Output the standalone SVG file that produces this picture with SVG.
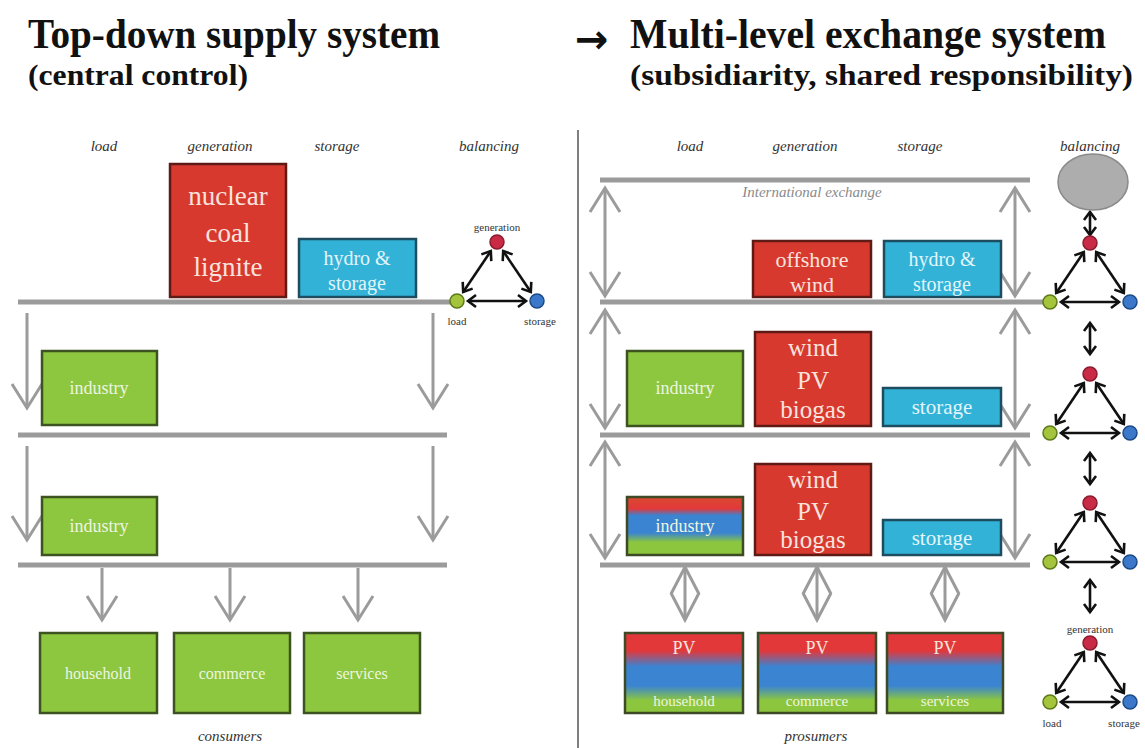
<svg xmlns="http://www.w3.org/2000/svg" xmlns:xlink="http://www.w3.org/1999/xlink" width="1145" height="748" viewBox="0 0 1145 748">
  <style>
    .title { font-weight: bold; fill: #111; }
    .head { font-style: italic; font-size: 15px; fill: #333; text-anchor: middle; }
    .small { font-size: 11px; fill: #333; text-anchor: middle; }
    .bus { stroke: #9b9b9b; stroke-width: 5; fill: none; }
    .flow { stroke: #9b9b9b; stroke-width: 3; fill: none; }
    .bal { stroke: #111; stroke-width: 2.6; fill: none; }
    .red { fill: #d8392f; stroke: #5e1a15; stroke-width: 2.5; }
    .blue { fill: #31b2d6; stroke: #1f4d60; stroke-width: 2.5; }
    .green { fill: #8dc63f; stroke: #3d5420; stroke-width: 2.5; }
    .mix { stroke: #3d4a25; stroke-width: 2.5; }
    .lbl { text-anchor: middle; }
    .lred { fill: #f7e3de; }
    .lblue { fill: #e3f5fa; }
    .lgreen { fill: #eef5e0; }
  </style>
  <defs>
    <marker id="gh" markerUnits="userSpaceOnUse" markerWidth="60" markerHeight="60" viewBox="-30 -30 60 60" refX="0" refY="0" orient="auto-start-reverse" overflow="visible">
      <path d="M-24,-15 L0,0 L-24,15" fill="none" stroke="#9b9b9b" stroke-width="3"/>
    </marker>
    <marker id="dh" markerUnits="userSpaceOnUse" markerWidth="60" markerHeight="60" viewBox="-30 -30 60 60" refX="0" refY="0" orient="auto-start-reverse" overflow="visible">
      <path d="M-27,-14 L0,0 L-27,14" fill="none" stroke="#9b9b9b" stroke-width="3"/>
    </marker>
    <marker id="kh" markerUnits="userSpaceOnUse" markerWidth="20" markerHeight="20" viewBox="-10 -10 20 20" refX="0" refY="0" orient="auto-start-reverse" overflow="visible">
      <path d="M-8,-6 L0,0 L-8,6" fill="none" stroke="#111" stroke-width="2.6"/>
    </marker>
    <linearGradient id="pv" x1="0" y1="0" x2="0" y2="1">
      <stop offset="0" stop-color="#e2383a"/>
      <stop offset="0.22" stop-color="#e2383a"/>
      <stop offset="0.42" stop-color="#3a84d2"/>
      <stop offset="0.66" stop-color="#3a84d2"/>
      <stop offset="0.84" stop-color="#8cc63f"/>
      <stop offset="1" stop-color="#8cc63f"/>
    </linearGradient>
    <linearGradient id="ind" x1="0" y1="0" x2="0" y2="1">
      <stop offset="0" stop-color="#d84a2e"/>
      <stop offset="0.2" stop-color="#e2383a"/>
      <stop offset="0.32" stop-color="#3a84d2"/>
      <stop offset="0.62" stop-color="#3a84d2"/>
      <stop offset="0.78" stop-color="#8cc63f"/>
      <stop offset="1" stop-color="#8cc63f"/>
    </linearGradient>
    <!-- balancing triangle: generation (top), load (left), storage (right) -->
    <g id="tri">
      <path class="bal" d="M-6.2,9.1 L-33.8,49.9" marker-start="url(#kh)" marker-end="url(#kh)"/>
      <path class="bal" d="M6.2,9.1 L33.8,49.9" marker-start="url(#kh)" marker-end="url(#kh)"/>
      <path class="bal" d="M-29,59 L29,59" marker-start="url(#kh)" marker-end="url(#kh)"/>
      <circle cx="0" cy="0" r="7" fill="#c92a45" stroke="#8a1a2c" stroke-width="1.5"/>
      <circle cx="-40" cy="59" r="7" fill="#a3c43c" stroke="#5c7a1a" stroke-width="1.5"/>
      <circle cx="40" cy="59" r="7" fill="#3b78c9" stroke="#1d4a87" stroke-width="1.5"/>
    </g>
  </defs>

  <rect width="1145" height="748" fill="#ffffff"/>

  <!-- titles -->
  <g id="titles" font-family="Liberation Serif">
    <text class="title" x="28" y="48" font-size="42" textLength="412" lengthAdjust="spacingAndGlyphs">Top-down supply system</text>
    <text class="title" x="28" y="85" font-size="29" textLength="220" lengthAdjust="spacingAndGlyphs">(central control)</text>
    <text x="575" y="53" font-family="DejaVu Sans" font-weight="bold" font-size="40" fill="#111">→</text>
    <text class="title" x="630" y="48" font-size="42" textLength="476" lengthAdjust="spacingAndGlyphs">Multi-level exchange system</text>
    <text class="title" x="630" y="85" font-size="29" textLength="503" lengthAdjust="spacingAndGlyphs">(subsidiarity, shared responsibility)</text>
  </g>

  <!-- divider -->
  <line x1="578" y1="130" x2="578" y2="748" stroke="#555" stroke-width="1.5"/>

  <!-- column headers -->
  <g id="headers" font-family="Liberation Serif">
    <text class="head" x="104" y="151">load</text>
    <text class="head" x="220" y="151">generation</text>
    <text class="head" x="337" y="151">storage</text>
    <text class="head" x="489" y="151">balancing</text>
    <text class="head" x="690" y="151">load</text>
    <text class="head" x="805" y="151">generation</text>
    <text class="head" x="920" y="151">storage</text>
    <text class="head" x="1090" y="151">balancing</text>
  </g>

  <!-- grid levels -->
  <g id="buses">
    <line class="bus" x1="18" y1="302" x2="452" y2="302"/>
    <line class="bus" x1="18" y1="435" x2="447" y2="435"/>
    <line class="bus" x1="18" y1="565" x2="447" y2="565"/>
    <line class="bus" x1="600" y1="180" x2="1030" y2="180"/>
    <line class="bus" x1="600" y1="302" x2="1044" y2="302"/>
    <line class="bus" x1="600" y1="435" x2="1030" y2="435"/>
    <line class="bus" x1="600" y1="565" x2="1030" y2="565"/>
    <text class="head" x="812" y="197" font-size="14" font-family="Liberation Serif" style="fill:#8a8a8a">International exchange</text>
  </g>

  <!-- connectors -->
  <g id="connectors">
    <!-- top-down flows -->
    <line class="flow" x1="27" y1="313" x2="27" y2="408" marker-end="url(#gh)"/>
    <line class="flow" x1="433" y1="313" x2="433" y2="408" marker-end="url(#gh)"/>
    <line class="flow" x1="27" y1="446" x2="27" y2="540" marker-end="url(#gh)"/>
    <line class="flow" x1="433" y1="446" x2="433" y2="540" marker-end="url(#gh)"/>
    <line class="flow" x1="102" y1="568" x2="102" y2="620" marker-end="url(#gh)"/>
    <line class="flow" x1="230" y1="568" x2="230" y2="620" marker-end="url(#gh)"/>
    <line class="flow" x1="358" y1="568" x2="358" y2="620" marker-end="url(#gh)"/>
    <!-- multi-level exchanges -->
    <line class="flow" x1="605" y1="188" x2="605" y2="296" marker-start="url(#gh)" marker-end="url(#gh)"/>
    <line class="flow" x1="1015" y1="188" x2="1015" y2="296" marker-start="url(#gh)" marker-end="url(#gh)"/>
    <line class="flow" x1="605" y1="310" x2="605" y2="428" marker-start="url(#gh)" marker-end="url(#gh)"/>
    <line class="flow" x1="1015" y1="310" x2="1015" y2="428" marker-start="url(#gh)" marker-end="url(#gh)"/>
    <line class="flow" x1="605" y1="442" x2="605" y2="558" marker-start="url(#gh)" marker-end="url(#gh)"/>
    <line class="flow" x1="1015" y1="442" x2="1015" y2="558" marker-start="url(#gh)" marker-end="url(#gh)"/>
    <line class="flow" x1="685" y1="567" x2="685" y2="620" marker-start="url(#dh)" marker-end="url(#dh)"/>
    <line class="flow" x1="817" y1="567" x2="817" y2="620" marker-start="url(#dh)" marker-end="url(#dh)"/>
    <line class="flow" x1="945" y1="567" x2="945" y2="620" marker-start="url(#dh)" marker-end="url(#dh)"/>
    <!-- balancing links between levels -->
    <line class="bal" x1="1090" y1="212" x2="1090" y2="235" marker-start="url(#kh)" marker-end="url(#kh)"/>
    <line class="bal" x1="1090" y1="323" x2="1090" y2="354" marker-start="url(#kh)" marker-end="url(#kh)"/>
    <line class="bal" x1="1090" y1="453" x2="1090" y2="484" marker-start="url(#kh)" marker-end="url(#kh)"/>
    <line class="bal" x1="1090" y1="580" x2="1090" y2="612" marker-start="url(#kh)" marker-end="url(#kh)"/>
  </g>

  <!-- left: central supply -->
  <g id="nuclear-coal-lignite" font-family="Liberation Serif">
    <rect class="red" x="170" y="164" width="116" height="133"/>
    <text class="lbl lred" x="228" y="205" font-size="27">nuclear</text>
    <text class="lbl lred" x="228" y="242" font-size="27">coal</text>
    <text class="lbl lred" x="228" y="276" font-size="27">lignite</text>
  </g>
  <g id="hydro-storage-left" font-family="Liberation Serif">
    <rect class="blue" x="299" y="239" width="117" height="58"/>
    <text class="lbl lblue" x="357" y="265" font-size="20">hydro &amp;</text>
    <text class="lbl lblue" x="357" y="290" font-size="20">storage</text>
  </g>
  <g id="industry-left-1" font-family="Liberation Serif">
    <rect class="green" x="42" y="351" width="115" height="74"/>
    <text class="lbl lgreen" x="99" y="394" font-size="18">industry</text>
  </g>
  <g id="industry-left-2" font-family="Liberation Serif">
    <rect class="green" x="42" y="497" width="115" height="58"/>
    <text class="lbl lgreen" x="99" y="532" font-size="18">industry</text>
  </g>
  <g id="household-left" font-family="Liberation Serif">
    <rect class="green" x="40" y="633" width="117" height="80"/>
    <text class="lbl lgreen" x="98" y="679" font-size="16">household</text>
  </g>
  <g id="commerce-left" font-family="Liberation Serif">
    <rect class="green" x="174" y="633" width="116" height="80"/>
    <text class="lbl lgreen" x="232" y="679" font-size="16">commerce</text>
  </g>
  <g id="services-left" font-family="Liberation Serif">
    <rect class="green" x="304" y="633" width="116" height="80"/>
    <text class="lbl lgreen" x="362" y="679" font-size="16">services</text>
  </g>
  <text class="head" x="230" y="741" font-size="14" font-family="Liberation Serif">consumers</text>

  <g id="balancing-left" font-family="Liberation Serif">
    <use xlink:href="#tri" href="#tri" transform="translate(497,242)"/>
    <text class="small" x="497" y="231">generation</text>
    <text class="small" x="457" y="325">load</text>
    <text class="small" x="540" y="325">storage</text>
  </g>

  <!-- right: multi-level exchange -->
  <g id="offshore-wind" font-family="Liberation Serif">
    <rect class="red" x="753" y="241" width="118" height="56"/>
    <text class="lbl lred" x="812" y="267" font-size="22">offshore</text>
    <text class="lbl lred" x="812" y="292" font-size="22">wind</text>
  </g>
  <g id="hydro-storage-right" font-family="Liberation Serif">
    <rect class="blue" x="884" y="241" width="117" height="56"/>
    <text class="lbl lblue" x="942" y="266" font-size="20">hydro &amp;</text>
    <text class="lbl lblue" x="942" y="291" font-size="20">storage</text>
  </g>
  <g id="industry-right-1" font-family="Liberation Serif">
    <rect class="green" x="627" y="351" width="116" height="75"/>
    <text class="lbl lgreen" x="685" y="394" font-size="18">industry</text>
  </g>
  <g id="renewables-1" font-family="Liberation Serif">
    <rect class="red" x="755" y="332" width="116" height="94"/>
    <text class="lbl lred" x="813" y="356" font-size="25">wind</text>
    <text class="lbl lred" x="813" y="389" font-size="25">PV</text>
    <text class="lbl lred" x="813" y="418" font-size="25">biogas</text>
  </g>
  <g id="storage-right-1" font-family="Liberation Serif">
    <rect class="blue" x="883" y="388" width="118" height="38"/>
    <text class="lbl lblue" x="942" y="414" font-size="21">storage</text>
  </g>
  <g id="industry-right-2" font-family="Liberation Serif">
    <rect class="mix" fill="url(#ind)" x="627" y="497" width="116" height="58"/>
    <text class="lbl lgreen" x="685" y="532" font-size="18">industry</text>
  </g>
  <g id="renewables-2" font-family="Liberation Serif">
    <rect class="red" x="755" y="464" width="116" height="91"/>
    <text class="lbl lred" x="813" y="488" font-size="25">wind</text>
    <text class="lbl lred" x="813" y="520" font-size="25">PV</text>
    <text class="lbl lred" x="813" y="548" font-size="25">biogas</text>
  </g>
  <g id="storage-right-2" font-family="Liberation Serif">
    <rect class="blue" x="883" y="520" width="118" height="35"/>
    <text class="lbl lblue" x="942" y="545" font-size="21">storage</text>
  </g>
  <g id="household-right" font-family="Liberation Serif">
    <rect class="mix" fill="url(#pv)" x="625" y="633" width="118" height="80"/>
    <text class="lbl lred" x="684" y="654" font-size="18">PV</text>
    <text class="lbl lgreen" x="684" y="706" font-size="15">household</text>
  </g>
  <g id="commerce-right" font-family="Liberation Serif">
    <rect class="mix" fill="url(#pv)" x="758" y="633" width="118" height="80"/>
    <text class="lbl lred" x="817" y="654" font-size="18">PV</text>
    <text class="lbl lgreen" x="817" y="706" font-size="15">commerce</text>
  </g>
  <g id="services-right" font-family="Liberation Serif">
    <rect class="mix" fill="url(#pv)" x="887" y="633" width="116" height="80"/>
    <text class="lbl lred" x="945" y="654" font-size="18">PV</text>
    <text class="lbl lgreen" x="945" y="706" font-size="15">services</text>
  </g>
  <text class="head" x="816" y="741" font-size="14" font-family="Liberation Serif">prosumers</text>

  <g id="international-pool">
    <ellipse cx="1093" cy="182" rx="35" ry="28" fill="#adadad" stroke="#8a8a8a" stroke-width="1.5"/>
  </g>
  <g id="balancing-1"><use xlink:href="#tri" href="#tri" transform="translate(1090,243)"/></g>
  <g id="balancing-2"><use xlink:href="#tri" href="#tri" transform="translate(1090,374)"/></g>
  <g id="balancing-3"><use xlink:href="#tri" href="#tri" transform="translate(1090,503)"/></g>
  <g id="balancing-4" font-family="Liberation Serif">
    <use xlink:href="#tri" href="#tri" transform="translate(1090,643)"/>
    <text class="small" x="1090" y="633">generation</text>
    <text class="small" x="1052" y="727">load</text>
    <text class="small" x="1124" y="727">storage</text>
  </g>
</svg>
